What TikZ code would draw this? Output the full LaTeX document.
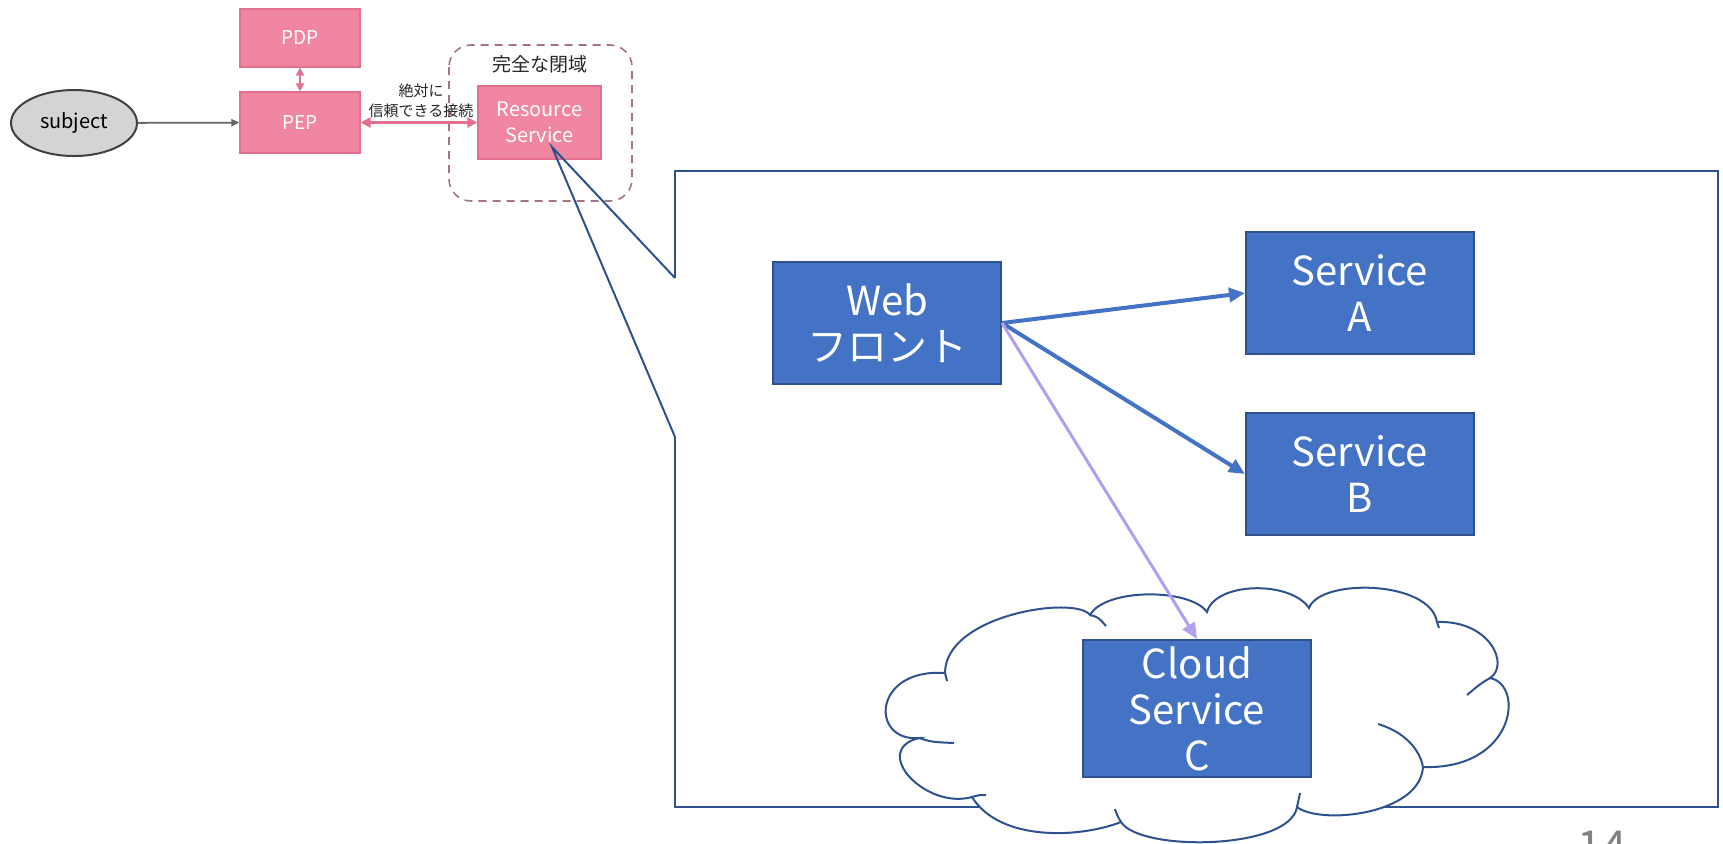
\documentclass[tikz,border=0pt]{standalone}
\usepackage{fontspec}
\setmainfont{Noto Sans CJK JP}
\usetikzlibrary{arrows.meta,shapes.geometric}

\definecolor{pepfill}{RGB}{240,134,160}
\definecolor{pepline}{RGB}{226,112,142}
\definecolor{officeblue}{RGB}{68,114,196}
\definecolor{darkblue}{RGB}{47,82,143}
\definecolor{lavender}{RGB}{180,158,238}
\definecolor{closedline}{RGB}{165,115,135}

\tikzset{
  policybox/.style={draw=pepline, fill=pepfill, line width=0.6pt, text=white,
    minimum width=60pt, inner sep=0pt, align=center,
    font=\fontsize{9.5}{11}\selectfont},
  svcbox/.style={draw=darkblue, fill=officeblue, line width=1pt, text=white,
    minimum width=114pt, minimum height=61pt, inner sep=0pt, align=center,
    font=\fontsize{20}{23}\selectfont},
  callarrow/.style={officeblue, line width=2pt, -{Triangle[length=8pt,width=7pt]}},
}

\begin{document}
\begin{tikzpicture}[x=0.5pt,y=-0.5pt]
  \useasboundingbox (0,0) rectangle (1723,843);
  \clip (0,0) rectangle (1723,843);

  % access control, small picture
  \node[ellipse, draw=black!75, fill=black!17, line width=1pt,
    minimum width=63pt, minimum height=33pt,
    font=\fontsize{10}{12}\selectfont] (subject) at (74,123) {subject};
  \node[policybox, minimum height=29pt] (pdp) at (300,38) {PDP};
  \node[policybox, minimum height=30.5pt] (pep) at (300,122.5) {PEP};
  \node[policybox, minimum width=61.5pt, minimum height=36.5pt,
    font=\fontsize{10}{13}\selectfont] (rsrc) at (539.5,122.5) {Resource\\Service};

  \draw[closedline, line width=0.8pt, dash pattern=on 4pt off 3pt,
    rounded corners=11pt] (449,45) rectangle (632,201);
  \node[font=\fontsize{9.5}{11}\selectfont, text=black!85] (closedlbl) at (540,64) {完全な閉域};
  \node[align=center, font=\fontsize{7.5}{10}\selectfont, text=black!85,
    inner sep=0pt] (trustlbl) at (421,101) {絶対に\\信頼できる接続};

  \draw[black!60, line width=0.9pt, -{Triangle[length=4pt,width=3.5pt]}] (subject) -- (pep);
  \draw[pepline, line width=0.9pt, {Triangle[length=4pt,width=4pt]}-{Triangle[length=4pt,width=4pt]}] (pdp) -- (pep);
  \draw[pepline, line width=1.6pt, {Triangle[length=5pt,width=5pt]}-{Triangle[length=5pt,width=5pt]}] (pep) -- (rsrc);

  % zoomed frame
  \coordinate (tip) at (552,147);
  \coordinate (gaptop) at (675,278);
  \coordinate (gapbot) at (675,437);
  \draw[darkblue, line width=1.2pt] (gaptop) -- (675,171) -- (1718,171) -- (1718,807) -- (675,807) -- (gapbot);
  \draw[darkblue, line width=1pt] (gaptop) -- (tip) -- (gapbot);

  % cloud
  \filldraw[darkblue, fill=white, line width=1pt]
    (919,738) .. controls (870,742) and (872,668) .. (945,673)
    .. controls (945,615) and (1075,595) .. (1090,615)
    .. controls (1105,588) and (1190,588) .. (1207,612)
    .. controls (1215,582) and (1290,580) .. (1309,608)
    .. controls (1320,578) and (1430,580) .. (1437,622)
    .. controls (1490,620) and (1510,665) .. (1490,678)
    .. controls (1525,685) and (1515,770) .. (1423,767)
    .. controls (1420,815) and (1320,825) .. (1297,807)
    .. controls (1290,850) and (1140,852) .. (1121,822)
    .. controls (1080,838) and (1000,842) .. (972,797)
    .. controls (925,810) and (870,750) .. (919,738) -- cycle;
  \draw[darkblue, line width=1pt]
    (1090,615) .. controls (1098,617) .. (1106,626)
    (1490,678) .. controls (1480,684) .. (1467,695)
    (1378,724) .. controls (1405,732) and (1420,750) .. (1423,767)
    (1297,807) .. controls (1299,800) .. (1300,793)
    (1121,822) .. controls (1117,815) .. (1115,809)
    (972,797) .. controls (979,795) .. (986,795)
    (919,738) .. controls (932,742) .. (954,743)
    (945,673) -- (947,681)
    (1437,622) -- (1439,628);

  \node[svcbox] (web) at (887,323) {Web\\フロント};
  \node[svcbox] (svca) at (1360,293) {Service\\A};
  \node[svcbox] (svcb) at (1360,474) {Service\\B};
  \node[svcbox, minimum height=68.5pt] (svcc) at (1197,708.5) {Cloud\\Service\\C};

  \draw[callarrow] (web.east) -- (svca.west);
  \draw[callarrow] (web.east) -- (svcb.west);
  \draw[lavender, line width=1.5pt, -{Triangle[length=8pt,width=7pt]}] (web.east) -- (svcc.north);

  \node[anchor=base, inner sep=0pt, text=black!50,
    font=\fontsize{22}{24}\selectfont] (pageno) at (1602,862) {14};
\end{tikzpicture}
\end{document}
